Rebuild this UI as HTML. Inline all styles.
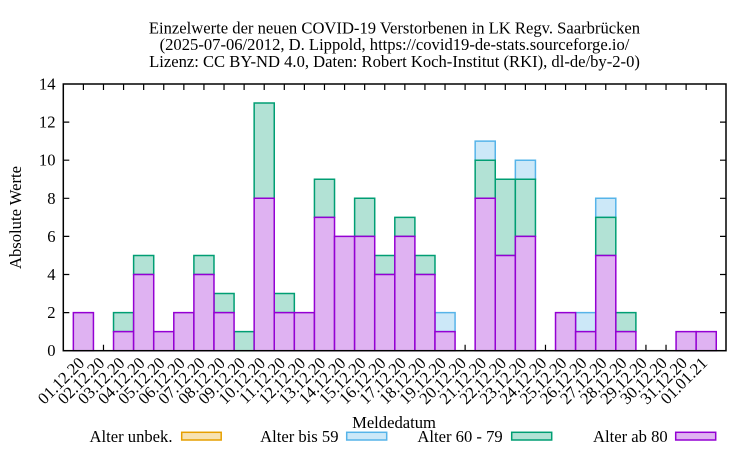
<!DOCTYPE html>
<html><head><meta charset="utf-8"><style>
html,body{margin:0;padding:0;background:#fff;}
svg{display:block;}
text{font-family:"Liberation Serif",serif;font-size:16.6px;fill:#000;}
</style></head><body>
<svg width="750" height="450" viewBox="0 0 750 450" xmlns="http://www.w3.org/2000/svg">
<rect width="750" height="450" fill="#fff"/>
<!-- title -->
<text x="394.5" y="33.3" text-anchor="middle">Einzelwerte der neuen COVID-19 Verstorbenen in LK Regv. Saarbrücken</text>
<text x="394.5" y="50" text-anchor="middle">(2025-07-06/2012, D. Lippold, https://covid19-de-stats.sourceforge.io/</text>
<text x="394.5" y="67" text-anchor="middle">Lizenz: CC BY-ND 4.0, Daten: Robert Koch-Institut (RKI), dl-de/by-2-0)</text>

<!-- ticks -->
<g stroke="#000" stroke-width="1.2" fill="none">
<path d="M63.3 312.6h6M63.3 274.5h6M63.3 236.4h6M63.3 198.3h6M63.3 160.2h6M63.3 122.1h6
M726 312.6h-6M726 274.5h-6M726 236.4h-6M726 198.3h-6M726 160.2h-6M726 122.1h-6"/>
<path d="M83.39 350.7v-6M103.48 350.7v-6M123.57 350.7v-6M143.66 350.7v-6M163.75 350.7v-6M183.85 350.7v-6M203.94 350.7v-6M224.03 350.7v-6M244.12 350.7v-6M264.21 350.7v-6M284.30 350.7v-6M304.39 350.7v-6M324.48 350.7v-6M344.57 350.7v-6M364.66 350.7v-6M384.75 350.7v-6M404.85 350.7v-6M424.94 350.7v-6M445.03 350.7v-6M465.12 350.7v-6M485.21 350.7v-6M505.30 350.7v-6M525.39 350.7v-6M545.48 350.7v-6M565.57 350.7v-6M585.66 350.7v-6M605.75 350.7v-6M625.85 350.7v-6M645.94 350.7v-6M666.03 350.7v-6M686.12 350.7v-6M706.21 350.7v-6"/>
<path d="M83.39 84v6M103.48 84v6M123.57 84v6M143.66 84v6M163.75 84v6M183.85 84v6M203.94 84v6M224.03 84v6M244.12 84v6M264.21 84v6M284.30 84v6M304.39 84v6M324.48 84v6M344.57 84v6M364.66 84v6M384.75 84v6M404.85 84v6M424.94 84v6M445.03 84v6M465.12 84v6M485.21 84v6M505.30 84v6M525.39 84v6M545.48 84v6M565.57 84v6M585.66 84v6M605.75 84v6M625.85 84v6M645.94 84v6M666.03 84v6M686.12 84v6M706.21 84v6"/>
</g>

<!-- bars in data coordinates -->
<g transform="translate(63.3,350.7) scale(20.0909,-19.05)" stroke-width="1.5">
<g fill="rgb(204,232,248)" stroke="#56b4e9">
<rect x="18.5" y="1" width="1" height="1" vector-effect="non-scaling-stroke"/>
<rect x="20.5" y="10" width="1" height="1" vector-effect="non-scaling-stroke"/>
<rect x="22.5" y="9" width="1" height="1" vector-effect="non-scaling-stroke"/>
<rect x="25.5" y="1" width="1" height="1" vector-effect="non-scaling-stroke"/>
<rect x="26.5" y="7" width="1" height="1" vector-effect="non-scaling-stroke"/>
</g>
<g fill="rgb(178,226,213)" stroke="#009e73">
<rect x="2.5" y="1" width="1" height="1" vector-effect="non-scaling-stroke"/>
<rect x="3.5" y="4" width="1" height="1" vector-effect="non-scaling-stroke"/>
<rect x="6.5" y="4" width="1" height="1" vector-effect="non-scaling-stroke"/>
<rect x="7.5" y="2" width="1" height="1" vector-effect="non-scaling-stroke"/>
<rect x="8.5" y="0" width="1" height="1" vector-effect="non-scaling-stroke"/>
<rect x="9.5" y="8" width="1" height="5" vector-effect="non-scaling-stroke"/>
<rect x="10.5" y="2" width="1" height="1" vector-effect="non-scaling-stroke"/>
<rect x="12.5" y="7" width="1" height="2" vector-effect="non-scaling-stroke"/>
<rect x="14.5" y="6" width="1" height="2" vector-effect="non-scaling-stroke"/>
<rect x="15.5" y="4" width="1" height="1" vector-effect="non-scaling-stroke"/>
<rect x="16.5" y="6" width="1" height="1" vector-effect="non-scaling-stroke"/>
<rect x="17.5" y="4" width="1" height="1" vector-effect="non-scaling-stroke"/>
<rect x="20.5" y="8" width="1" height="2" vector-effect="non-scaling-stroke"/>
<rect x="21.5" y="5" width="1" height="4" vector-effect="non-scaling-stroke"/>
<rect x="22.5" y="6" width="1" height="3" vector-effect="non-scaling-stroke"/>
<rect x="26.5" y="5" width="1" height="2" vector-effect="non-scaling-stroke"/>
<rect x="27.5" y="1" width="1" height="1" vector-effect="non-scaling-stroke"/>
</g>
<g fill="rgb(223,178,242)" stroke="#9400d3">
<rect x="0.5" y="0" width="1" height="2" vector-effect="non-scaling-stroke"/>
<rect x="2.5" y="0" width="1" height="1" vector-effect="non-scaling-stroke"/>
<rect x="3.5" y="0" width="1" height="4" vector-effect="non-scaling-stroke"/>
<rect x="4.5" y="0" width="1" height="1" vector-effect="non-scaling-stroke"/>
<rect x="5.5" y="0" width="1" height="2" vector-effect="non-scaling-stroke"/>
<rect x="6.5" y="0" width="1" height="4" vector-effect="non-scaling-stroke"/>
<rect x="7.5" y="0" width="1" height="2" vector-effect="non-scaling-stroke"/>
<rect x="9.5" y="0" width="1" height="8" vector-effect="non-scaling-stroke"/>
<rect x="10.5" y="0" width="1" height="2" vector-effect="non-scaling-stroke"/>
<rect x="11.5" y="0" width="1" height="2" vector-effect="non-scaling-stroke"/>
<rect x="12.5" y="0" width="1" height="7" vector-effect="non-scaling-stroke"/>
<rect x="13.5" y="0" width="1" height="6" vector-effect="non-scaling-stroke"/>
<rect x="14.5" y="0" width="1" height="6" vector-effect="non-scaling-stroke"/>
<rect x="15.5" y="0" width="1" height="4" vector-effect="non-scaling-stroke"/>
<rect x="16.5" y="0" width="1" height="6" vector-effect="non-scaling-stroke"/>
<rect x="17.5" y="0" width="1" height="4" vector-effect="non-scaling-stroke"/>
<rect x="18.5" y="0" width="1" height="1" vector-effect="non-scaling-stroke"/>
<rect x="20.5" y="0" width="1" height="8" vector-effect="non-scaling-stroke"/>
<rect x="21.5" y="0" width="1" height="5" vector-effect="non-scaling-stroke"/>
<rect x="22.5" y="0" width="1" height="6" vector-effect="non-scaling-stroke"/>
<rect x="24.5" y="0" width="1" height="2" vector-effect="non-scaling-stroke"/>
<rect x="25.5" y="0" width="1" height="1" vector-effect="non-scaling-stroke"/>
<rect x="26.5" y="0" width="1" height="5" vector-effect="non-scaling-stroke"/>
<rect x="27.5" y="0" width="1" height="1" vector-effect="non-scaling-stroke"/>
<rect x="30.5" y="0" width="1" height="1" vector-effect="non-scaling-stroke"/>
<rect x="31.5" y="0" width="1" height="1" vector-effect="non-scaling-stroke"/>
</g>
</g>

<!-- border -->
<rect x="63.3" y="84" width="662.7" height="266.7" fill="none" stroke="#000" stroke-width="1.5"/>

<!-- y tick labels -->
<g text-anchor="end">
<text x="55.5" y="356.2">0</text>
<text x="55.5" y="318.1">2</text>
<text x="55.5" y="280">4</text>
<text x="55.5" y="241.9">6</text>
<text x="55.5" y="203.8">8</text>
<text x="55.5" y="165.7">10</text>
<text x="55.5" y="127.6">12</text>
<text x="55.5" y="89.5">14</text>
</g>
<text transform="translate(21,217.5) rotate(-90)" text-anchor="middle">Absolute Werte</text>

<!-- x tick labels -->
<g text-anchor="end">
<text transform="translate(85.4,364) rotate(-45)">01.12.20</text>
<text transform="translate(105.5,364) rotate(-45)">02.12.20</text>
<text transform="translate(125.6,364) rotate(-45)">03.12.20</text>
<text transform="translate(145.7,364) rotate(-45)">04.12.20</text>
<text transform="translate(165.8,364) rotate(-45)">05.12.20</text>
<text transform="translate(185.9,364) rotate(-45)">06.12.20</text>
<text transform="translate(205.9,364) rotate(-45)">07.12.20</text>
<text transform="translate(226.0,364) rotate(-45)">08.12.20</text>
<text transform="translate(246.1,364) rotate(-45)">09.12.20</text>
<text transform="translate(266.2,364) rotate(-45)">10.12.20</text>
<text transform="translate(286.3,364) rotate(-45)">11.12.20</text>
<text transform="translate(306.4,364) rotate(-45)">12.12.20</text>
<text transform="translate(326.5,364) rotate(-45)">13.12.20</text>
<text transform="translate(346.6,364) rotate(-45)">14.12.20</text>
<text transform="translate(366.7,364) rotate(-45)">15.12.20</text>
<text transform="translate(386.8,364) rotate(-45)">16.12.20</text>
<text transform="translate(406.9,364) rotate(-45)">17.12.20</text>
<text transform="translate(426.9,364) rotate(-45)">18.12.20</text>
<text transform="translate(447.0,364) rotate(-45)">19.12.20</text>
<text transform="translate(467.1,364) rotate(-45)">20.12.20</text>
<text transform="translate(487.2,364) rotate(-45)">21.12.20</text>
<text transform="translate(507.3,364) rotate(-45)">22.12.20</text>
<text transform="translate(527.4,364) rotate(-45)">23.12.20</text>
<text transform="translate(547.5,364) rotate(-45)">24.12.20</text>
<text transform="translate(567.6,364) rotate(-45)">25.12.20</text>
<text transform="translate(587.7,364) rotate(-45)">26.12.20</text>
<text transform="translate(607.8,364) rotate(-45)">27.12.20</text>
<text transform="translate(627.8,364) rotate(-45)">28.12.20</text>
<text transform="translate(647.9,364) rotate(-45)">29.12.20</text>
<text transform="translate(668.0,364) rotate(-45)">30.12.20</text>
<text transform="translate(688.1,364) rotate(-45)">31.12.20</text>
<text transform="translate(708.2,364) rotate(-45)">01.01.21</text>
</g>

<text x="394" y="428" text-anchor="middle">Meldedatum</text>

<!-- legend -->
<g text-anchor="end">
<text x="172.5" y="442">Alter unbek.</text>
<text x="338.5" y="442">Alter bis 59</text>
<text x="502.7" y="442">Alter 60 - 79</text>
<text x="667.7" y="442">Alter ab 80</text>
</g>
<g stroke-width="1.5">
<rect x="181.7" y="432.3" width="39.5" height="7.7" fill="rgb(247,226,178)" stroke="#e69f00"/>
<rect x="346.7" y="432.3" width="40" height="7.7" fill="rgb(204,232,248)" stroke="#56b4e9"/>
<rect x="511.7" y="432.3" width="40" height="7.7" fill="rgb(178,226,213)" stroke="#009e73"/>
<rect x="675.7" y="432.3" width="40" height="7.7" fill="rgb(223,178,242)" stroke="#9400d3"/>
</g>
</svg>
</body></html>
